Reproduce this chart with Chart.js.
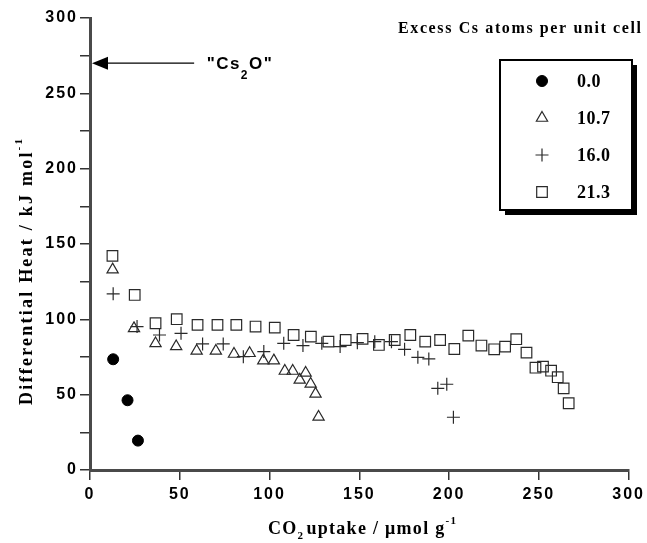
<!DOCTYPE html>
<html>
<head>
<meta charset="utf-8">
<script src="https://cdn.jsdelivr.net/npm/chart.js@4.4.1/dist/chart.umd.min.js"></script>
<style>
  html, body { margin: 0; padding: 0; background: #fff; }
  canvas { display: block; }
</style>
</head>
<body>
<canvas id="c" width="647" height="543"></canvas>
<script>
// ---- data ----
const seriesLabels = ['0.0', '10.7', '16.0', '21.3'];

const cs00X = [12.9, 20.9, 26.7];
const cs00Y = [73.5, 46.3, 19.5];

const cs107X = [12.6, 24.5, 36.5, 48, 59.4, 70.1, 80.2, 88.9, 96.5, 102.4, 108.5, 112.9, 116.8, 120.1, 122.9, 125.6, 127.3];
const cs107Y = [133, 94, 84, 82, 79, 79, 77, 77.5, 72.6, 72.6, 65.7, 65.7, 59.8, 64.4, 57.1, 50.5, 35.2];

const cs160X = [12.9, 26.2, 38.7, 50.7, 62.7, 74.2, 85.4, 96.8, 107.9, 118.6, 129.1, 139.3, 148.9, 158.6, 167.9, 175.2, 182.6, 188.7, 193.7, 198.7, 202.4];
const cs160Y = [116.9, 95.2, 89.6, 90.7, 83.7, 83.7, 75.2, 78.6, 84.1, 82.6, 84.1, 81.9, 84.5, 85.2, 85.2, 80.1, 74.8, 73.7, 54.2, 56.9, 35.0];

const cs213X = [12.5, 24.9, 36.5, 48.3, 59.9, 71, 81.5, 92.2, 102.9, 113.4, 123, 132.8, 142.4, 151.8, 160.9, 169.7, 178.4, 186.7, 195, 202.9, 210.7, 218, 225.1, 231.2, 237.4, 243.1, 248.1, 252.3, 256.8, 260.5, 263.8, 266.6];
const cs213Y = [142.1, 116.2, 97.4, 100.1, 96.3, 96.3, 96.3, 95.2, 94.5, 89.6, 88.5, 85.2, 86.3, 87, 83, 86.3, 89.6, 85.2, 86.3, 80.3, 89.2, 82.6, 80.1, 81.9, 86.8, 77.9, 67.9, 68.6, 65.9, 61.6, 54.2, 44.3];

const xTicks = [0, 50, 100, 150, 200, 250, 300];
const yTicks = [0, 50, 100, 150, 200, 250, 300];
const cs2oLevel = 270;       // annotation arrow level (kJ/mol)
const cs2oArrowFrom = 58;    // arrow tail, x value

function pts(xs, ys) { return xs.map((x, i) => ({ x: x, y: ys[i] })); }

const INK = '#2a2a2a';
const datasets = [
  { label: seriesLabels[0], data: pts(cs00X, cs00Y), pointStyle: 'circle', pointRadius: 5.5,
    backgroundColor: '#000', borderColor: '#000', borderWidth: 1 },
  { label: seriesLabels[1], data: pts(cs107X, cs107Y), pointStyle: 'triangle', pointRadius: 6.5,
    backgroundColor: 'rgba(255,255,255,0)', borderColor: INK, borderWidth: 1.2 },
  { label: seriesLabels[2], data: pts(cs160X, cs160Y), pointStyle: 'cross', pointRadius: 6.5,
    backgroundColor: INK, borderColor: INK, borderWidth: 1.2 },
  { label: seriesLabels[3], data: pts(cs213X, cs213Y), pointStyle: 'rect', pointRadius: 7.5,
    backgroundColor: 'rgba(255,255,255,0)', borderColor: INK, borderWidth: 1.2 }
];

const tickFont = { family: '"Liberation Sans", Arial, sans-serif', size: 16, weight: 'bold' };
const SERIF = '"Liberation Serif", "Times New Roman", serif';

// draws text segments; if target given, letter spacing is set so the whole run spans 'target' px
function drawRich(ctx, parts, x, y, align, target) {
  let nat = 0, nChars = 0;
  parts.forEach(p => {
    ctx.letterSpacing = '0px';
    ctx.font = 'bold ' + p.size + 'px ' + (p.family || SERIF);
    nat += ctx.measureText(p.t).width + (p.gap || 0);
    nChars += p.t.length;
  });
  const ls = target ? Math.max(0, (target - nat) / Math.max(1, nChars - 1)) : 0;
  ctx.letterSpacing = ls + 'px';
  let total = 0;
  parts.forEach(p => { ctx.font = 'bold ' + p.size + 'px ' + (p.family || SERIF); p.w = ctx.measureText(p.t).width + (p.gap || 0); total += p.w; });
  let cx = align === 'center' ? x - total / 2 : (align === 'right' ? x - total : x);
  ctx.textAlign = 'left';
  ctx.textBaseline = 'alphabetic';
  parts.forEach(p => {
    ctx.font = 'bold ' + p.size + 'px ' + (p.family || SERIF);
    ctx.fillText(p.t, cx, y + (p.dy || 0));
    cx += p.w;
  });
  ctx.letterSpacing = '0px';
}

const decor = {
  id: 'decor',
  beforeDraw(chart) {
    chart.ctx.letterSpacing = '2px';
  },
  afterDraw(chart) {
    const ctx = chart.ctx;
    const xs = chart.scales.x, ys = chart.scales.y;
    ctx.save();
    ctx.letterSpacing = '0px';
    ctx.fillStyle = '#000';
    ctx.strokeStyle = '#000';

    // y-axis title
    ctx.save();
    ctx.translate(26, 405);
    ctx.rotate(-Math.PI / 2);
    drawRich(ctx, [
      { t: 'Differential Heat / kJ mol', size: 18 },
      { t: '-1', size: 11, dy: -10 }
    ], 0, 6, 'left', 266);
    ctx.restore();

    // x-axis title
    drawRich(ctx, [
      { t: 'CO', size: 18 },
      { t: '2', size: 11, dy: 5, gap: 2 },
      { t: 'uptake / \u03bcmol g', size: 18 },
      { t: '-1', size: 11, dy: -10 }
    ], 268, 534, 'left', 188);

    // Cs2O annotation arrow
    const ay = ys.getPixelForValue(cs2oLevel);
    const tipX = xs.getPixelForValue(0) + 2;
    const tailX = xs.getPixelForValue(cs2oArrowFrom);
    ctx.lineWidth = 1.2;
    ctx.beginPath();
    ctx.moveTo(tipX + 14, ay);
    ctx.lineTo(tailX, ay);
    ctx.stroke();
    ctx.beginPath();
    ctx.moveTo(tipX, ay);
    ctx.lineTo(tipX + 16, ay - 6.5);
    ctx.lineTo(tipX + 16, ay + 6.5);
    ctx.closePath();
    ctx.fill();
    drawRich(ctx, [
      { t: '"Cs', size: 17, family: '"Liberation Sans", Arial, sans-serif' },
      { t: '2', size: 12, dy: 10, family: '"Liberation Sans", Arial, sans-serif' },
      { t: 'O"', size: 17, family: '"Liberation Sans", Arial, sans-serif' }
    ], xs.getPixelForValue(65), ay + 6, 'left', 65);

    // legend title
    drawRich(ctx, [{ t: 'Excess Cs atoms per unit cell', size: 16 }], 398, 33, 'left', 243);

    // legend box with shadow
    const bx = 500, by = 60, bw = 132, bh = 150;
    ctx.fillStyle = '#000';
    ctx.fillRect(bx + 5, by + 5, bw, bh);
    ctx.fillStyle = '#fff';
    ctx.fillRect(bx, by, bw, bh);
    ctx.lineWidth = 2;
    ctx.strokeStyle = '#000';
    ctx.strokeRect(bx, by, bw, bh);

    const rowY = [81, 118, 155, 192];
    chart.data.datasets.forEach((ds, i) => {
      ctx.save();
      ctx.fillStyle = ds.backgroundColor;
      ctx.strokeStyle = ds.borderColor;
      ctx.lineWidth = ds.borderWidth;
      Chart.helpers.drawPoint(ctx, { pointStyle: ds.pointStyle, radius: ds.pointRadius, borderWidth: ds.borderWidth, rotation: 0 }, 542, rowY[i]);
      ctx.restore();
      ctx.fillStyle = '#000';
      ctx.letterSpacing = '0.5px';
      ctx.font = 'bold 18px ' + SERIF;
      ctx.textAlign = 'left';
      ctx.textBaseline = 'middle';
      ctx.fillText(ds.label, 577, rowY[i] + 1);
      ctx.letterSpacing = '0px';
    });
    ctx.restore();
  }
};

const axisCommon = {
  type: 'linear',
  min: 0, max: 300,
  border: { display: true, color: '#4a4a4a', width: 3 },
  grid: { display: true, drawOnChartArea: false, drawTicks: true, tickLength: 10, color: '#333', lineWidth: 1.5, tickWidth: 1.5 }
};

new Chart(document.getElementById('c'), {
  type: 'scatter',
  data: { datasets: datasets },
  options: {
    responsive: false,
    animation: false,
    devicePixelRatio: 1,
    layout: { padding: { top: 18, right: 15, left: 0, bottom: 0 } },
    plugins: { legend: { display: false }, tooltip: { enabled: false } },
    scales: {
      x: Object.assign({}, axisCommon, {
        position: 'bottom',
        afterBuildTicks: s => { s.ticks = xTicks.map(v => ({ value: v })); },
        ticks: { font: tickFont, color: '#000', padding: 5, maxRotation: 0, autoSkip: false },
        afterFit: s => { s.height = 73; }
      }),
      y: Object.assign({}, axisCommon, {
        position: 'left',
        ticks: { stepSize: 25, font: tickFont, color: '#000', padding: 2, autoSkip: false,
                 callback: v => (yTicks.includes(v) ? String(v) : '') },
        afterFit: s => { s.width = 90; }
      })
    }
  },
  plugins: [decor]
});
</script>
</body>
</html>
